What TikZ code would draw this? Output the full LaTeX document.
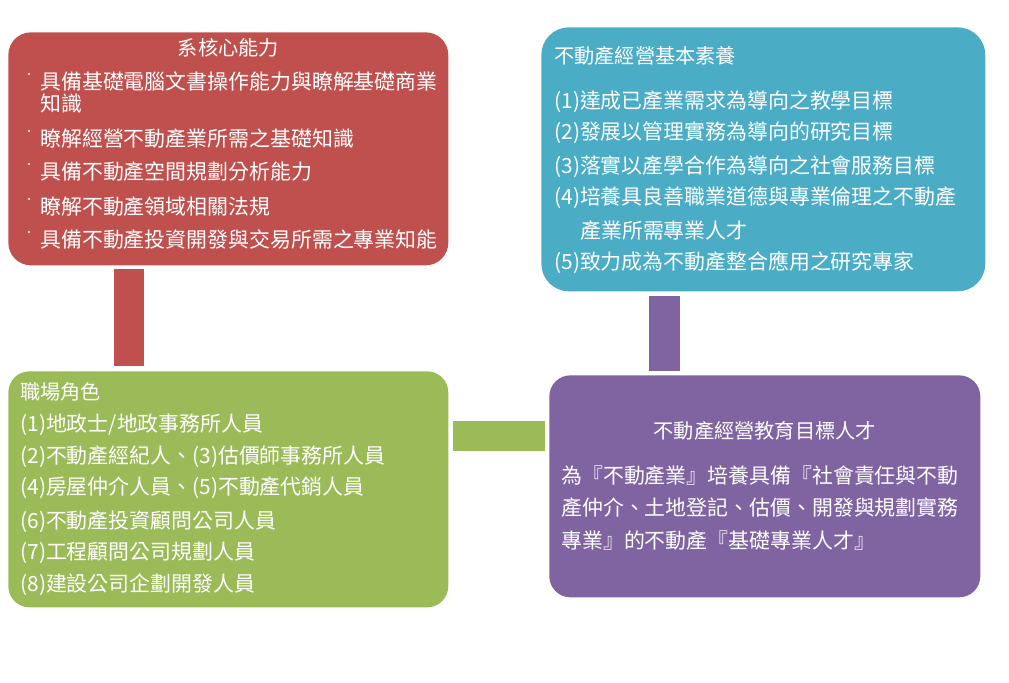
\documentclass[tikz,border=0pt]{standalone}
\usepackage{fontspec}
\setmainfont{Noto Sans CJK TC}
\usetikzlibrary{calc, positioning}

% Office-style theme colours
\definecolor{coreRed}{HTML}{C0504D}
\definecolor{goalTeal}{HTML}{4BACC6}
\definecolor{roleGreen}{HTML}{9BBB59}
\definecolor{aimPurple}{HTML}{8064A2}

\tikzset{
    card/.style={anchor=north west, inner sep=0pt, rounded corners=0.45cm},
    line/.style={anchor=west, inner sep=0pt, text=white, font=\fontsize{11.9}{14}\selectfont},
    head/.style={inner sep=0pt, text=white, font=\fontsize{11.5}{14}\selectfont}
}

\begin{document}
\begin{tikzpicture}[x=0.02cm, y=-0.02cm]
    \useasboundingbox (0,0) rectangle (1009,683);

    % the four boxes
    \node[card, fill=coreRed, minimum width=8.8cm, minimum height=4.66cm] (core) at (8,32) {};
    \node[card, fill=goalTeal, minimum width=8.88cm, minimum height=5.28cm, rounded corners=0.55cm] (goal) at (541,27) {};
    \node[card, fill=roleGreen, minimum width=8.8cm, minimum height=4.72cm, rounded corners=0.42cm] (role) at (8,371) {};
    \node[card, fill=aimPurple, minimum width=8.62cm, minimum height=4.44cm, rounded corners=0.42cm] (aim) at (549,375) {};

    % bars between the boxes
    \fill[coreRed] ($(core.south west)+(106,3)$) rectangle ($(role.north west)+(136,-5)$);
    \fill[aimPurple] ($(goal.south west)+(108,4)$) rectangle ($(aim.north west)+(131,-4)$);
    \fill[roleGreen] ($(role.north east)+(4,50)$) rectangle ($(aim.north west)+(-4,76)$);

    % core abilities
    \node[head] (coreHead) at ($(core.north)+(0,16)$) {系核心能力};
    \foreach \y/\t [count=\i] in {82/{具備基礎電腦文書操作能力與瞭解基礎商業}, 104/{知識},
        139/{瞭解經營不動產業所需之基礎知識}, 172/{具備不動產空間規劃分析能力},
        207/{瞭解不動產領域相關法規}, 240/{具備不動產投資開發與交易所需之專業知能}}
        \node[line] (core\i) at (40,\y) {\t};
    \foreach \y in {82,139,172,207,240}
        \fill[white] (29,\y-8) circle[radius=0.6pt];

    % basic qualities
    \node[head, anchor=west] (goalHead) at (554,56) {不動產經營基本素養};
    \foreach \x/\y/\t [count=\i] in {554/102/{(1)達成已產業需求為導向之教學目標},
        554/133/{(2)發展以管理實務為導向的研究目標},
        554/167/{(3)落實以產學合作為導向之社會服務目標},
        554/198/{(4)培養具良善職業道德與專業倫理之不動產},
        580/231/{產業所需專業人才},
        554/263/{(5)致力成為不動產整合應用之研究專家}}
        \node[line] (goal\i) at (\x,\y) {\t};

    % workplace roles
    \node[head, anchor=west] (roleHead) at (20,392) {職場角色};
    \foreach \y/\t [count=\i] in {425/{(1)地政士/地政事務所人員},
        457/{(2)不動產經紀人、(3)估價師事務所人員},
        488/{(4)房屋仲介人員、(5)不動產代銷人員},
        522/{(6)不動產投資顧問公司人員},
        553/{(7)工程顧問公司規劃人員},
        585/{(8)建設公司企劃開發人員}}
        \node[line] (role\i) at (20,\y) {\t};

    % education aim
    \node[head] (aimHead) at ($(aim.north)+(0,56)$) {不動產經營教育目標人才};
    \foreach \y/\t [count=\i] in {476/{為『不動產業』培養具備『社會責任與不動},
        508/{產仲介、土地登記、估價、開發與規劃實務},
        541/{專業』的不動產『基礎專業人才』}}
        \node[line] (aim\i) at (561,\y) {\t};
\end{tikzpicture}
\end{document}
